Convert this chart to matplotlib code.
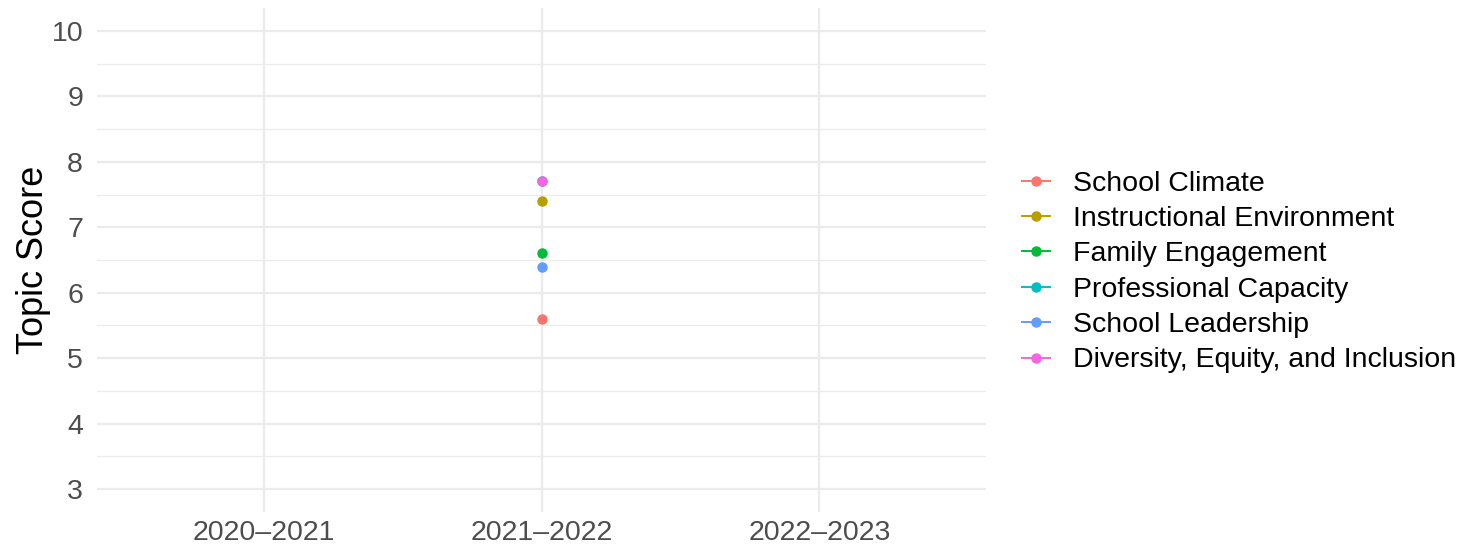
import matplotlib
matplotlib.use("Agg")
import matplotlib.pyplot as plt
from matplotlib.lines import Line2D

plt.rcParams['font.family'] = ['Liberation Sans', 'DejaVu Sans']

# School years on the x axis
years = ["2020\u20132021", "2021\u20132022", "2022\u20132023"]

# Topics and their scores (only 2021-2022 has data)
topics = ["School Climate", "Instructional Environment", "Family Engagement",
          "Professional Capacity", "School Leadership",
          "Diversity, Equity, and Inclusion"]
topic_years = ["2021\u20132022"] * 6
topic_scores = [5.6, 7.4, 6.6, 7.7, 6.4, 7.7]
colors = ["#F8766D", "#B79F00", "#00BA38", "#00BFC4", "#619CFF", "#F564E3"]

fig = plt.figure(figsize=(14.78, 5.46), dpi=100)
ax = fig.add_axes([97 / 1478, 1 - 512 / 546, (986 - 97) / 1478, (512 - 8) / 546])

xpos = {y: i for i, y in enumerate(years)}
for topic, yr, score, col in zip(topics, topic_years, topic_scores, colors):
    ax.plot([xpos[yr]], [score], marker="o", color=col, markersize=6.5,
            linestyle="-", zorder=3)

ax.set_xlim(-0.6, len(years) - 1 + 0.6)
ax.set_ylim(2.65, 10.35)
ax.set_xticks(range(len(years)))
ax.set_xticklabels(years)
ax.set_yticks(range(3, 11))
ax.set_yticks([3.5 + i for i in range(7)], minor=True)

for s in ax.spines.values():
    s.set_visible(False)
ax.tick_params(axis="both", which="both", length=0, labelsize=20.5,
               labelcolor="#4D4D4D")
ax.tick_params(axis="x", pad=6)
ax.tick_params(axis="y", pad=10)
ax.grid(axis="both", which="major", color="#EBEBEB", linewidth=1.6, zorder=0)
ax.grid(axis="y", which="minor", color="#EBEBEB", linewidth=0.9, zorder=0)
ax.set_axisbelow(True)
ax.set_ylabel("Topic Score", fontsize=26, labelpad=0)

handles = [Line2D([0], [0], color=c, marker="o", markersize=6.5, linewidth=1.4)
           for c in colors]
fig.legend(handles, topics, loc="center left",
           bbox_to_anchor=(1022 / 1478, 1 - 272 / 546), frameon=False,
           fontsize=20.5, handlelength=1.0, handletextpad=0.8,
           labelspacing=0.33, borderaxespad=0, borderpad=0)

fig.savefig("out.png", dpi=100)
